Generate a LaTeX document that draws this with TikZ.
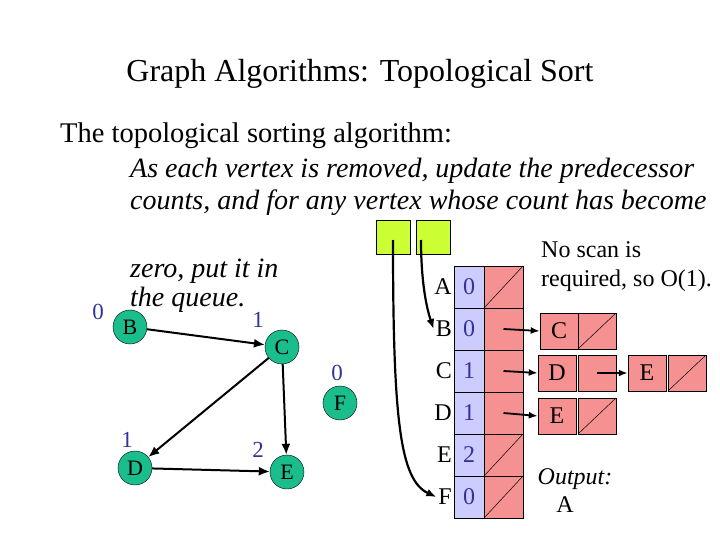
\documentclass[tikz,border=0pt]{standalone}
\usepackage{fontspec}
\setmainfont{Liberation Serif}
\usetikzlibrary{arrows.meta}
\definecolor{vgreen}{RGB}{26,190,140}
\definecolor{qyel}{RGB}{204,255,51}
\definecolor{cblue}{RGB}{204,204,255}
\definecolor{cpink}{RGB}{245,145,145}
\definecolor{numblue}{RGB}{51,51,153}
\tikzset{
 vert/.style={circle,draw=black,fill=vgreen,minimum size=34pt,inner sep=0pt,font=\fontsize{22}{22}\selectfont},
 edge/.style={line width=2pt,-{Latex[length=11pt,width=9pt]}},
 cnt/.style={numblue,font=\fontsize{23}{23}\selectfont},
 cell/.style={draw=black,line width=0.5pt,minimum width=#1,minimum height=42pt,inner sep=0pt,font=\fontsize{24}{24}\selectfont},
 bcell/.style={cell=30pt,fill=cblue,text=numblue},
 pcell/.style={cell=39pt,fill=cpink},
 lcell/.style={draw=black,line width=0.5pt,fill=cpink,minimum width=38pt,minimum height=36pt,inner sep=0pt,font=\fontsize{24}{24}\selectfont},
 nul/.style={path picture={\draw[line width=0.5pt] (path picture bounding box.south west) -- (path picture bounding box.north east);}},
 ptr/.style={line width=1.8pt,-{Latex[length=9pt,width=7pt]}},
 qarr/.style={line width=2.2pt,-{Latex[length=10pt,width=8pt]}},
 lbl/.style={font=\fontsize{24}{24}\selectfont},
 txt/.style={font=\fontsize{28.5}{28.5}\selectfont,anchor=base west,inner sep=0pt},
 itxt/.style={font=\fontsize{28}{28}\selectfont\itshape,anchor=base west,inner sep=0pt},
 note/.style={font=\fontsize{24}{24}\selectfont,anchor=base west,inner sep=0pt},
}
\begin{document}
\begin{tikzpicture}[x=1pt,y=-1pt]
\useasboundingbox (0,0) rectangle (720,540);
\node[font=\fontsize{32}{32}\selectfont,anchor=base] (title) at (360,82) {Graph Algorithms: Topological Sort};
\node[txt] (t1) at (60,143) {The topological sorting algorithm:};
\node[itxt] (t2) at (130,178) {As each vertex is removed, update the predecessor};
\node[itxt] (t3) at (130,210) {counts, and for any vertex whose count has become};
\node[itxt] (t4) at (130,277) {zero, put it in};
\node[itxt] (t5) at (130,306) {the queue.};
% graph
\node[vert] (B) at (130,327) {B};
\node[vert] (C) at (282,347) {C};
\node[vert] (F) at (340,403) {F};
\node[vert] (D) at (135,468) {D};
\node[vert] (E) at (287,472) {E};
\node[cnt] (cB) at (98,312) {0};
\node[cnt] (cC) at (258,320) {1};
\node[cnt] (cF) at (337,373) {0};
\node[cnt] (cD) at (127,440) {1};
\node[cnt] (cE) at (258,450) {2};
\draw[edge] (B) -- (C);
\draw[edge] (C) -- (D);
\draw[edge] (C) -- (E);
\draw[edge] (D) -- (E);
% queue
\node[draw=black,fill=qyel,minimum size=34pt,inner sep=0pt] (q1) at (393.5,237) {};
\node[draw=black,fill=qyel,minimum size=34pt,inner sep=0pt] (q2) at (433.5,237) {};
% table
\foreach \r/\L/\n/\y in {A/A/0/287,B/B/0/329,C/C/1/371,D/D/1/413,E/E/2/455,F/F/0/497}{
  \node[bcell] (b\r) at (469,\y) {\n};
  \node[lbl,anchor=east,inner sep=2pt] (l\r) at (454,\y) {\L};
}
\node[pcell,nul] (pA) at (503.5,287) {};
\node[pcell] (pB) at (503.5,329) {};
\node[pcell] (pC) at (503.5,371) {};
\node[pcell] (pD) at (503.5,413) {};
\node[pcell,nul] (pE) at (503.5,455) {};
\node[pcell,nul] (pF) at (503.5,497) {};
\draw[densely dotted] (bA.south west) rectangle (bA.north east);
\coordinate (qs1) at (393,240);
\coordinate (qs2) at (421,240);
\draw[qarr] (qs1) .. controls (393,420) and (400,480) .. (lF.west);
\draw[qarr] (qs2) .. controls (421,270) and (424,300) .. (lB.west);
% lists
\node[lcell] (c1) at (559,331) {C};
\node[lcell,nul] (c2) at (597,331) {};
\node[lcell] (d1) at (557,373) {D};
\node[lcell] (d2) at (597,373) {};
\node[lcell] (e1) at (647,373) {E};
\node[lcell,nul] (e2) at (687,373) {};
\node[lcell] (f1) at (557,416) {E};
\node[lcell,nul] (f2) at (597,416) {};
\draw[ptr] (pB.center) -- (c1.west);
\draw[ptr] (pC.center) -- (d1.west);
\draw[ptr] (d2.center) -- (e1.west);
\draw[ptr] (pD.center) -- (f1.west);
% notes
\node[note] (n1) at (541,258) {No scan is};
\node[note] (n2) at (541,286) {required, so O(1).};
\node[font=\fontsize{24}{24}\selectfont\itshape,anchor=base] (o1) at (575,484) {Output:};
\node[font=\fontsize{24}{24}\selectfont,anchor=base] (o2) at (565,512) {A};
\end{tikzpicture}
\end{document}
